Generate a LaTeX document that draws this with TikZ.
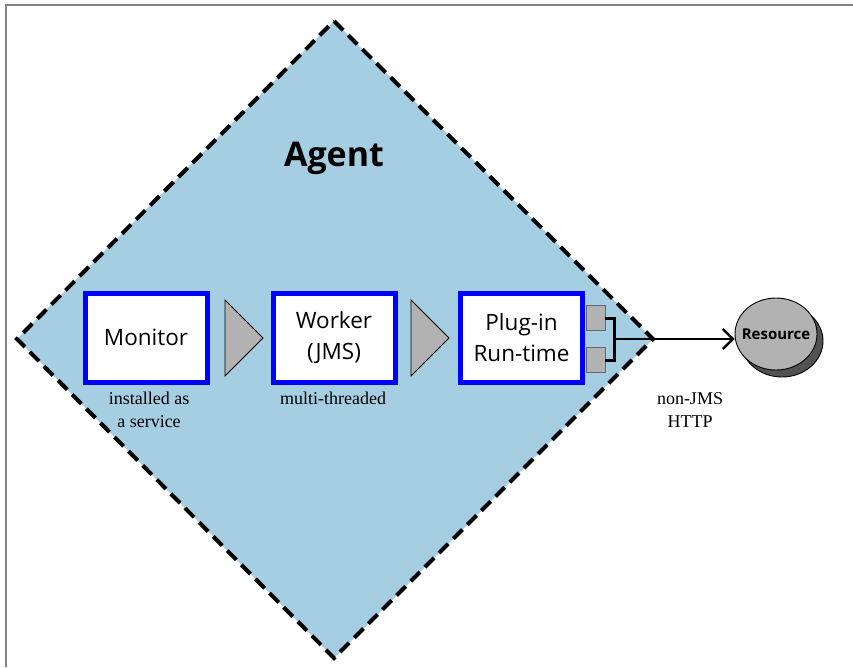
\documentclass[tikz,border=0pt]{standalone}
\usepackage{fontspec}
\setmainfont{Liberation Serif}
\newfontfamily\boxfont{Open Sans}
\usetikzlibrary{arrows.meta,shapes.geometric}
\definecolor{agentblue}{RGB}{166,206,226}
\definecolor{portgray}{RGB}{178,178,178}
\definecolor{framegray}{RGB}{130,130,130}

\begin{document}
\begin{tikzpicture}[x=1pt,y=-1pt,
  comp/.style={draw=blue, line width=5pt, fill=white, minimum width=122pt,
    minimum height=89pt, inner sep=0pt, align=center,
    font=\boxfont\fontsize{22.5}{31}\selectfont},
  flowtri/.style={draw=black, line width=0.9pt, fill=portgray, line join=miter},
  port/.style={draw=gray!80!black, line width=1pt, fill=portgray,
    minimum width=19pt, minimum height=25pt, inner sep=0pt},
  note/.style={font=\fontsize{18}{23}\selectfont, align=center, inner sep=0pt},
  disc/.style={draw=black, line width=0.9pt, ellipse, inner sep=0pt,
    minimum width=82pt, minimum height=72pt},
  link/.style={line width=2.4pt, -{Straight Barb[length=10pt,width=20pt,line width=2.4pt]}}
]
\useasboundingbox (0,0) rectangle (853,667);

% page frame
\draw[framegray, line width=1.5pt] (6,667) -- (6,5) -- (853,5);

% agent region
\draw[fill=agentblue, line width=4pt, dash pattern=on 13pt off 7pt, line join=miter]
  (334,21) -- (653,339) -- (334,658) -- (17,339) -- cycle;
\node[font=\boxfont\bfseries\fontsize{34}{40}\selectfont] (agent) at (334,158) {Agent};

% components
\node[comp] (monitor) at (146,337.5) {Monitor};
\node[comp] (worker) at (334,337.5) {Worker\\(JMS)};
\node[comp] (plugin) at (521.5,337.5) {Plug-in\\Run-time};

% flow triangles
\draw[flowtri] (225,300) -- (263,338) -- (225,376) -- cycle;
\draw[flowtri] (411,300) -- (449,338) -- (411,376) -- cycle;

% notes
\node[note] (monnote) at (149,410) {installed as\\a service};
\node[note] (worknote) at (333,398) {multi-threaded};
\node[note] (httpnote) at (690,410) {non-JMS\\HTTP};

% ports of the plug-in run-time
\node[port] (portA) at (596,318) {};
\node[port] (portB) at (596,360) {};
\coordinate (join) at (614,339);
\draw[line width=3pt, line cap=rect] (portA.east) -| (join |- portA.east) -- (join |- portB.east) -- (portB.east);

% resource with its shadow
\node[disc, fill=black!68] (shadow) at (782,341) {};
\node[disc, fill=portgray,
  label={[font=\boxfont\bfseries\fontsize{15}{18}\selectfont]center:Resource}] (resource) at (776,334) {};

\draw[link] (join) -- (join -| resource.west);
\end{tikzpicture}
\end{document}
